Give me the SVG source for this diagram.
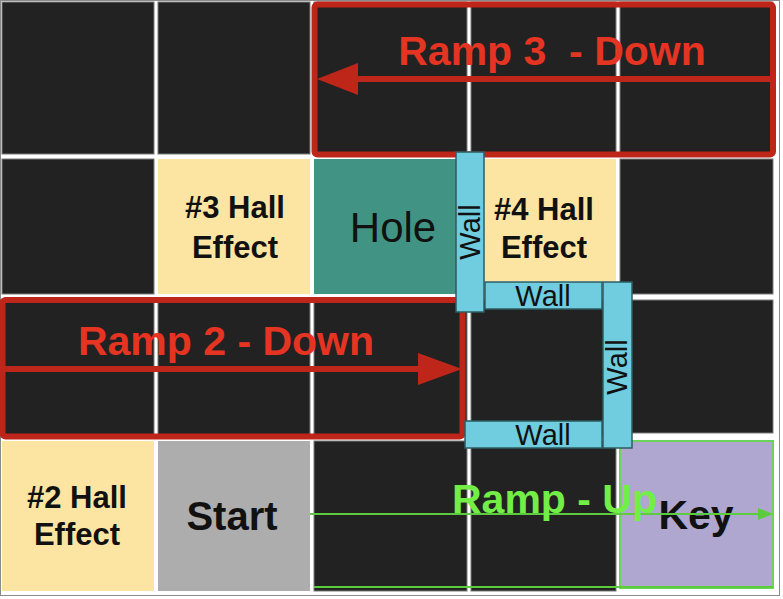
<svg xmlns="http://www.w3.org/2000/svg" width="783" height="599" viewBox="0 0 783 599">
<defs>
<style>
.cell{fill:#222222;stroke:#7a7a7a;stroke-width:1}
.hall{fill:#FCE4A2}
.t{font-family:"Liberation Sans",Arial,sans-serif;fill:#111111;text-anchor:middle}
.b{font-weight:bold}
.wall{fill:#6FCDDF;stroke:#2E5C63;stroke-width:1.5}
.wt{font-family:"Liberation Sans",Arial,sans-serif;font-size:29px;fill:#111111;text-anchor:middle;dominant-baseline:central}
.ramp{fill:none;stroke:#BE2619;stroke-width:6}
.rt{font-family:"Liberation Sans",Arial,sans-serif;font-size:41px;font-weight:bold;fill:#E63422;text-anchor:middle;white-space:pre}
</style>
</defs>
<rect x="0" y="0" width="783" height="599" fill="#ffffff"/>
<rect x="0.5" y="0.5" width="779" height="595" fill="none" stroke="#8a8a8a" stroke-width="1"/>
<g id="grid">
<rect class="cell" x="2" y="2" width="152" height="152"/>
<rect class="cell" x="158" y="2" width="152" height="152"/>
<rect class="cell" x="314" y="2" width="153" height="152"/>
<rect class="cell" x="471" y="2" width="145" height="152"/>
<rect class="cell" x="620" y="2" width="153" height="152"/>
<rect class="cell" x="2" y="159" width="152" height="135"/>
<rect class="cell" x="620" y="159" width="153" height="135"/>
<rect class="cell" x="2" y="300" width="152" height="136"/>
<rect class="cell" x="158" y="300" width="152" height="136"/>
<rect class="cell" x="314" y="300" width="153" height="136"/>
<rect class="cell" x="471" y="300" width="145" height="136"/>
<rect class="cell" x="620" y="300" width="153" height="133"/>
<rect class="cell" x="314" y="441" width="153" height="150"/>
<rect class="cell" x="471" y="441" width="145" height="150"/>
</g>
<g id="hall3"><rect class="hall" x="158" y="159" width="152" height="135"/>
<text class="t b" x="235" y="218" font-size="31">#3 Hall</text>
<text class="t b" x="235" y="258" font-size="31">Effect</text></g>
<g id="hole"><rect x="314" y="159" width="145" height="135" fill="#419484"/>
<text class="t" x="393" y="242" font-size="42">Hole</text></g>
<g id="hall4"><rect class="hall" x="484" y="159" width="132" height="122"/>
<text class="t b" x="544" y="220" font-size="31">#4 Hall</text>
<text class="t b" x="544" y="258" font-size="31">Effect</text></g>
<g id="hall2"><rect class="hall" x="2" y="441" width="152" height="150"/>
<text class="t b" x="77" y="508" font-size="31">#2 Hall</text>
<text class="t b" x="77" y="545" font-size="31">Effect</text></g>
<g id="start"><rect x="158" y="441" width="152" height="150" fill="#ADADAD"/>
<text class="t b" x="232" y="530" font-size="40">Start</text></g>
<g id="key"><rect x="620" y="441" width="153" height="147" fill="#B0A7D1" stroke="#6CD35A" stroke-width="2"/>
<text class="t b" x="696" y="529" font-size="41">Key</text></g>
<g id="ramp3">
<rect class="ramp" x="314.5" y="4.5" width="458.5" height="150" rx="3"/>
<line x1="356" y1="79" x2="773" y2="79" stroke="#BE2619" stroke-width="6"/>
<polygon points="317,79 358,63 358,95" fill="#BE2619"/>
<text class="rt" x="552" y="65" xml:space="preserve">Ramp 3  - Down</text>
</g>
<g id="ramp2">
<rect class="ramp" x="2.5" y="300" width="460" height="136.5" rx="3"/>
<line x1="2" y1="369" x2="420" y2="369" stroke="#BE2619" stroke-width="6"/>
<polygon points="462,369 418,353 418,385" fill="#BE2619"/>
<text class="rt" x="226" y="355">Ramp 2 - Down</text>
</g>
<g id="walls">
<g id="wall1"><rect class="wall" x="456" y="152" width="28" height="160"/>
<text class="wt" transform="translate(470 232) rotate(-90)">Wall</text></g>
<g id="wall2"><rect class="wall" x="485" y="282" width="117" height="27"/>
<text class="wt" x="543" y="296">Wall</text></g>
<g id="wall3"><rect class="wall" x="603" y="282" width="29" height="166"/>
<text class="wt" transform="translate(617 367) rotate(-90)">Wall</text></g>
<g id="wall4"><rect class="wall" x="465" y="421" width="137" height="27"/>
<text class="wt" x="543" y="435">Wall</text></g>
</g>
<g id="connectors">
<line x1="314" y1="587" x2="773" y2="587" stroke="#5DCB3E" stroke-width="2"/>
<line x1="310" y1="514" x2="760" y2="514" stroke="#5DCB3E" stroke-width="2"/>
<polygon points="773,514 758,508 758,520" fill="#5DCB3E"/>
</g>
<text class="rt" x="452" y="513" style="text-anchor:start;fill:#72EE46">Ramp - Up</text>
</svg>
